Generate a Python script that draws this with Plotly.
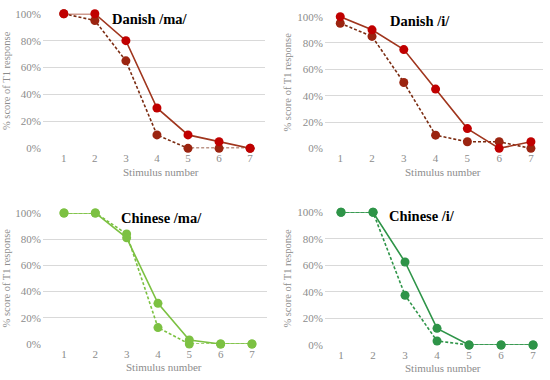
import plotly.graph_objects as go

stimulus = [1, 2, 3, 4, 5, 6, 7]
tick_labels = ["0%", "20%", "40%", "60%", "80%", "100%"]

danish_ma_solid = [100, 100, 80, 30, 10, 5, 0]
danish_ma_dashed = [100, 95, 65, 10, 0, 0, 0]
danish_i_solid = [100, 90, 75, 45, 15, 0, 5]
danish_i_dashed = [95, 85, 50, 10, 5, 5, 0]
chinese_ma_solid = [100, 100, 81, 31, 3, 0, 0]
chinese_ma_dashed = [100, 100, 84, 12.5, 0, 0, 0]
chinese_i_solid = [100, 100, 62.5, 12.5, 0, 0, 0]
chinese_i_dashed = [100, 100, 37.5, 3, 0, 0, 0]

titles = ["Danish /ma/", "Danish /i/", "Chinese /ma/", "Chinese /i/"]

W, H = 550, 380
panels = [
    dict(l=43, r=265, t=8, b=147, xr=[0.33, 7.48], title_x=110, title_y=13, xt=161,
         solid=danish_ma_solid, dashed=danish_ma_dashed,
         lc="#a0361e", mc="#c00000", dlc="#7b2c12", dmc="#9b2410"),
    dict(l=325, r=543, t=11, b=147, xr=[0.52, 7.38], title_x=388, title_y=15, xt=443,
         solid=danish_i_solid, dashed=danish_i_dashed,
         lc="#a0361e", mc="#c00000", dlc="#7b2c12", dmc="#9b2410"),
    dict(l=43, r=267, t=213.7, b=349, xr=[0.33, 7.48], title_x=119, title_y=219, xt=164,
         solid=chinese_ma_solid, dashed=chinese_ma_dashed,
         lc="#7cc142", mc="#7cc142", dlc="#7cc142", dmc="#7cc142"),
    dict(l=325, r=543, t=213, b=350, xr=[0.5, 7.31], title_x=387, title_y=217, xt=443,
         solid=chinese_i_solid, dashed=chinese_i_dashed,
         lc="#2e9448", mc="#2e9448", dlc="#2e9448", dmc="#2e9448"),
]

fig = go.Figure()
gray = "#8c8c8c"
serif = "Liberation Serif"

for i, p in enumerate(panels):
    n = "" if i == 0 else str(i + 1)
    xa, ya = "x" + n, "y" + n
    fig.add_trace(go.Scatter(
        x=stimulus, y=p["dashed"], xaxis=xa, yaxis=ya, mode="lines+markers",
        line=dict(color=p["dlc"], width=1.6, dash="3px,2px"),
        marker=dict(color=p["dmc"], size=9), cliponaxis=False, showlegend=False))
    fig.add_trace(go.Scatter(
        x=stimulus, y=p["solid"], xaxis=xa, yaxis=ya, mode="lines+markers",
        line=dict(color=p["lc"], width=1.6),
        marker=dict(color=p["mc"], size=9), cliponaxis=False, showlegend=False))
    fig.layout["xaxis" + n] = dict(
        domain=[p["l"] / W, p["r"] / W], range=p["xr"], anchor=ya,
        tickmode="array", tickvals=stimulus, ticktext=[str(s) for s in stimulus],
        showgrid=False, zeroline=False, showline=False, ticks="",
        ticklabelstandoff=2,
        tickfont=dict(family=serif, size=11, color=gray), fixedrange=True)
    fig.layout["yaxis" + n] = dict(
        domain=[1 - p["b"] / H, 1 - p["t"] / H], range=[0, 100], anchor=xa,
        tickmode="array", tickvals=[0, 20, 40, 60, 80, 100], ticktext=tick_labels,
        showgrid=True, gridcolor="#d9d9d9", gridwidth=1, zeroline=False,
        showline=False, ticks="", ticklabelstandoff=1,
        tickfont=dict(family=serif, size=11, color=gray), fixedrange=True)
    fig.add_annotation(x=p["title_x"] / W, y=1 - p["title_y"] / H, xref="paper", yref="paper",
                       text="<b>" + titles[i] + "</b>", showarrow=False, xanchor="left", yanchor="middle",
                       font=dict(family=serif, size=14.5, color="black"))
    fig.add_annotation(x=p["xt"] / W, y=1 - (p["b"] + 24) / H,
                       xref="paper", yref="paper", text="Stimulus number", showarrow=False,
                       xanchor="center", yanchor="middle",
                       font=dict(family=serif, size=11, color=gray))
    fig.add_annotation(x=(p["l"] - 37) / W, y=1 - ((p["t"] + p["b"]) / 2) / H,
                       xref="paper", yref="paper", text="% score of T1 response", showarrow=False,
                       textangle=-90, xanchor="center", yanchor="middle",
                       font=dict(family=serif, size=10.5, color=gray))

fig.update_layout(width=W, height=H, margin=dict(l=0, r=0, t=0, b=0),
                  paper_bgcolor="white", plot_bgcolor="white")
fig.write_html("out.html", config={"displayModeBar": False, "staticPlot": True},
               post_script="document.body.style.margin='0px';document.body.style.overflow='hidden';")
